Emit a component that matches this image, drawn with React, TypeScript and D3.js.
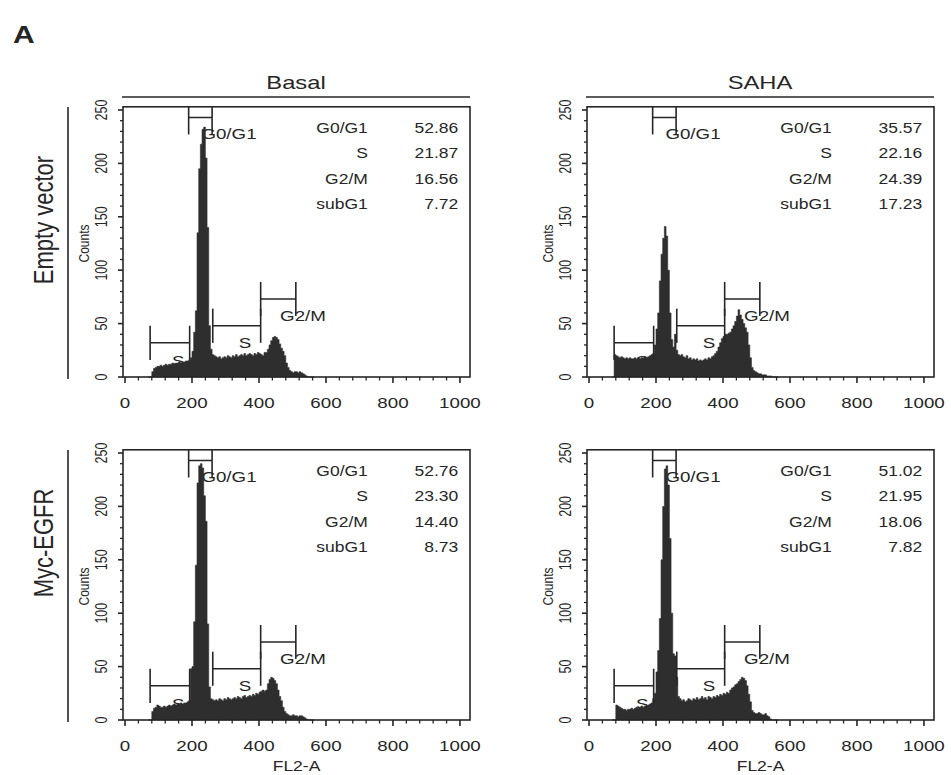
import React from 'react';
import * as d3 from 'd3';

// ---- histogram data: DNA content (FL2-A) counts, bins start at 70, width 5 ----
const CHANNEL_START = 70;
const CHANNEL_STEP = 5;

const EV_BASAL = [
  0, 0, 5, 8, 9, 10, 10, 11, 10, 11,
  12, 11, 12, 12, 13, 12, 13, 13, 14, 13,
  14, 14, 15, 15, 16, 18, 24, 42, 62, 135,
  195, 218, 232, 234, 205, 140, 48, 26, 21, 20,
  19, 18, 19, 17, 18, 19, 18, 20, 19, 18,
  20, 19, 21, 19, 20, 21, 20, 22, 20, 21,
  22, 21, 20, 22, 21, 23, 22, 21, 20, 23,
  23, 26, 30, 34, 37, 38, 37, 35, 31, 27,
  24, 20, 13, 9, 6, 5, 4, 5, 5, 4,
  5, 4, 3, 2, 1, 0, 0, 0, 0, 0,
];

const EV_SAHA = [
  0, 21, 20, 19, 18, 19, 18, 17, 18, 17,
  18, 17, 17, 18, 17, 18, 17, 18, 18, 19,
  18, 19, 20, 21, 22, 30, 45, 60, 90, 115,
  130, 141, 132, 100, 60, 35, 28, 40, 25, 21,
  20, 21, 19, 18, 20, 17, 18, 16, 17, 16,
  17, 15, 16, 15, 16, 17, 16, 18, 17, 19,
  20, 22, 24, 28, 32, 36, 38, 40, 40, 41,
  42, 45, 48, 52, 57, 63, 58, 54, 50, 46,
  42, 30, 18, 9, 6, 5, 4, 3, 3, 2,
  2, 2, 1, 1, 1, 0, 0, 0, 0, 0,
];

const MYC_BASAL = [
  0, 0, 8, 11, 12, 14, 13, 12, 12, 13,
  12, 13, 14, 13, 14, 15, 14, 15, 15, 16,
  15, 16, 16, 17, 18, 48, 50, 92, 145, 222,
  238, 240, 236, 210, 186, 90, 31, 20, 19, 18,
  19, 18, 20, 19, 18, 20, 19, 21, 20, 19,
  20, 21, 20, 22, 21, 20, 22, 23, 21, 22,
  23, 22, 24, 23, 25, 24, 26, 27, 28, 27,
  28, 34, 38, 40, 39, 37, 34, 28, 22, 18,
  12, 8, 6, 5, 4, 4, 5, 4, 4, 3,
  4, 4, 3, 2, 1, 0, 0, 0, 0, 0,
];

const MYC_SAHA = [
  0, 0, 14, 13, 12, 11, 10, 10, 9, 10,
  10, 11, 10, 11, 12, 11, 12, 13, 12, 13,
  13, 14, 15, 16, 20, 25, 45, 65, 95, 150,
  200, 235, 238, 220, 170, 100, 62, 60, 40, 22,
  20, 18, 19, 17, 18, 20, 19, 18, 20, 19,
  21, 19, 20, 22, 20, 21, 19, 22, 21, 20,
  22, 21, 23, 22, 24, 23, 25, 24, 26, 25,
  28, 30, 31, 33, 34, 36, 38, 40, 39, 37,
  32, 24, 17, 9, 7, 6, 6, 7, 6, 5,
  5, 6, 4, 3, 1, 0, 0, 0, 0, 0,
];

// ---- cell-cycle percentages ----
const PHASES = ['G0/G1', 'S', 'G2/M', 'subG1'];
const EV_BASAL_PCT = ['52.86', '21.87', '16.56', '7.72'];
const EV_SAHA_PCT = ['35.57', '22.16', '24.39', '17.23'];
const MYC_BASAL_PCT = ['52.76', '23.30', '14.40', '8.73'];
const MYC_SAHA_PCT = ['51.02', '21.95', '18.06', '7.82'];

// ---- gate markers (channel range and marker height in counts) ----
const GATE_NAMES = ['subG1', 'G0/G1', 'S', 'G2/M'];
const GATE_LO = [75, 190, 262, 405];
const GATE_HI = [193, 260, 405, 510];
const GATE_LEVEL = [32, 243, 48, 73];

// ---- axes ----
const X_TICKS = [0, 200, 400, 600, 800, 1000];
const Y_TICKS = [0, 50, 100, 150, 200, 250];
const COLUMN_TITLES = ['Basal', 'SAHA'];
const ROW_TITLES = ['Empty vector', 'Myc-EGFR'];

const FONT = "'Liberation Sans', Arial, Helvetica, sans-serif";
const SX = 1.25;
const INK = '#262626';
const FILL = '#2e2e2e';

type TProps = {
  x: number; y: number; size: number; anchor?: string; rotate?: number;
  weight?: string | number; children: React.ReactNode;
};

function T({ x, y, size, anchor = 'start', rotate = 0, weight = 'normal', children }: TProps) {
  const tf = `translate(${x},${y}) scale(${SX},1)` + (rotate ? ` rotate(${rotate})` : '');
  return (
    <text transform={tf} fontSize={size} textAnchor={anchor} fontFamily={FONT}
      fontWeight={weight} fill={INK}>{children}</text>
  );
}

type PanelProps = {
  id: string; axisX: number; zeroY: number; counts: number[]; pcts: string[]; showXTitle: boolean;
};

function Panel({ id, axisX, zeroY, counts, pcts, showXTitle }: PanelProps) {
  const x = d3.scaleLinear().domain([-6, 1030]).range([axisX, axisX + 347]);
  const y = d3.scaleLinear().domain([0, 250]).range([zeroY, zeroY - 267]);
  const top = y(253);
  const right = x(1030);
  const bins = counts.map((c, i) => ({ ch: CHANNEL_START + i * CHANNEL_STEP, c }));
  const area = d3.area<{ ch: number; c: number }>()
    .x(d => x(d.ch)).y0(y(0)).y1(d => y(d.c)).curve(d3.curveStepAfter);
  const xMinor = d3.range(0, 1001, 40).filter(v => v % 200 !== 0);
  const yMinor = d3.range(0, 251, 10).filter(v => v % 50 !== 0);
  const clip = `clip-${id}`;
  const tickHalf = 16;

  return (
    <g>
      <defs>
        <clipPath id={clip}>
          <rect x={axisX} y={top} width={right - axisX} height={y(0) - top} />
        </clipPath>
      </defs>

      {/* gate labels sit underneath the histogram */}
      <T x={x(140)} y={y(10)} size={15}>S</T>
      <T x={x(228)} y={y(228) + 6} size={15}>G0/G1</T>
      <T x={x(358)} y={y(33) + 6} size={15} anchor="middle">S</T>
      <T x={x(463)} y={y(58) + 6} size={15}>G2/M</T>

      <path d={area(bins) || ''} fill={FILL} stroke={FILL} strokeWidth={0.6} />

      {/* gate markers */}
      <g clipPath={`url(#${clip})`} stroke={INK} strokeWidth={1.6}>
        {GATE_NAMES.map((g, i) => (
          <g key={g}>
            <line x1={x(GATE_LO[i])} x2={x(GATE_HI[i])} y1={y(GATE_LEVEL[i])} y2={y(GATE_LEVEL[i])} />
            <line x1={x(GATE_LO[i])} x2={x(GATE_LO[i])}
              y1={y(GATE_LEVEL[i] + tickHalf)} y2={y(GATE_LEVEL[i] - tickHalf)} />
            <line x1={x(GATE_HI[i])} x2={x(GATE_HI[i])}
              y1={y(GATE_LEVEL[i] + tickHalf)} y2={y(GATE_LEVEL[i] - tickHalf)} />
          </g>
        ))}
      </g>

      {/* frame */}
      <rect x={axisX} y={top} width={right - axisX} height={y(0) - top}
        fill="none" stroke={INK} strokeWidth={1.6} />

      {/* x axis */}
      <g stroke={INK}>
        {X_TICKS.map(v => (
          <line key={v} x1={x(v)} x2={x(v)} y1={y(0)} y2={y(0) + 6} strokeWidth={1.6} />
        ))}
        {xMinor.map(v => (
          <line key={v} x1={x(v)} x2={x(v)} y1={y(0)} y2={y(0) + 3.5} strokeWidth={1.3} />
        ))}
      </g>
      {X_TICKS.map(v => (
        <T key={v} x={x(v)} y={y(0) + 31} size={15} anchor="middle">{v}</T>
      ))}
      {showXTitle && (
        <T x={(axisX + right) / 2} y={y(0) + 51} size={14} anchor="middle">FL2-A</T>
      )}

      {/* y axis */}
      <g stroke={INK}>
        {Y_TICKS.map(v => (
          <line key={v} x1={axisX - 5} x2={axisX} y1={y(v)} y2={y(v)} strokeWidth={1.6} />
        ))}
        {yMinor.map(v => (
          <line key={v} x1={axisX - 3} x2={axisX} y1={y(v)} y2={y(v)} strokeWidth={1.3} />
        ))}
      </g>
      {Y_TICKS.map(v => (
        <T key={v} x={axisX - 16} y={y(v)} size={12.5} anchor="middle" rotate={-90}>{v}</T>
      ))}
      <T x={axisX - 34} y={y(125)} size={12} anchor="middle" rotate={-90}>Counts</T>

      {/* cell-cycle summary */}
      {PHASES.map((p, i) => (
        <g key={p}>
          <T x={x(725)} y={top + 26 + i * 25.5} size={14} anchor="end">{p}</T>
          <T x={x(995)} y={top + 26 + i * 25.5} size={14} anchor="end">{pcts[i]}</T>
        </g>
      ))}
    </g>
  );
}

export default function App() {
  const colX = [123, 587];
  const rowZero = [377, 720];
  const panels = [
    { id: 'evb', col: 0, row: 0, counts: EV_BASAL, pcts: EV_BASAL_PCT },
    { id: 'evs', col: 1, row: 0, counts: EV_SAHA, pcts: EV_SAHA_PCT },
    { id: 'myb', col: 0, row: 1, counts: MYC_BASAL, pcts: MYC_BASAL_PCT },
    { id: 'mys', col: 1, row: 1, counts: MYC_SAHA, pcts: MYC_SAHA_PCT },
  ];
  const rowCenter = [220, 543];

  return (
    <svg width={951} height={775} viewBox="0 0 951 775"
      style={{ position: 'absolute', left: 0, top: 0, background: '#fff' }}>
      <rect width={951} height={775} fill="#fff" />
      <T x={13} y={43} size={24} weight="bold">A</T>

      {COLUMN_TITLES.map((t, c) => (
        <g key={t}>
          <T x={colX[c] + 173} y={89} size={19} anchor="middle">{t}</T>
          <line x1={colX[c] - 1} x2={colX[c] + 347} y1={97} y2={97} stroke={INK} strokeWidth={1.6} />
        </g>
      ))}

      {ROW_TITLES.map((t, r) => (
        <g key={t}>
          <T x={53} y={rowCenter[r]} size={22} anchor="middle" rotate={-90}>{t}</T>
          <line x1={68} x2={68} y1={rowZero[r] - 270} y2={rowZero[r] + 2} stroke={INK} strokeWidth={1.6} />
        </g>
      ))}

      {panels.map(p => (
        <Panel key={p.id} id={p.id} axisX={colX[p.col]} zeroY={rowZero[p.row]}
          counts={p.counts} pcts={p.pcts} showXTitle={p.row === 1} />
      ))}
    </svg>
  );
}
